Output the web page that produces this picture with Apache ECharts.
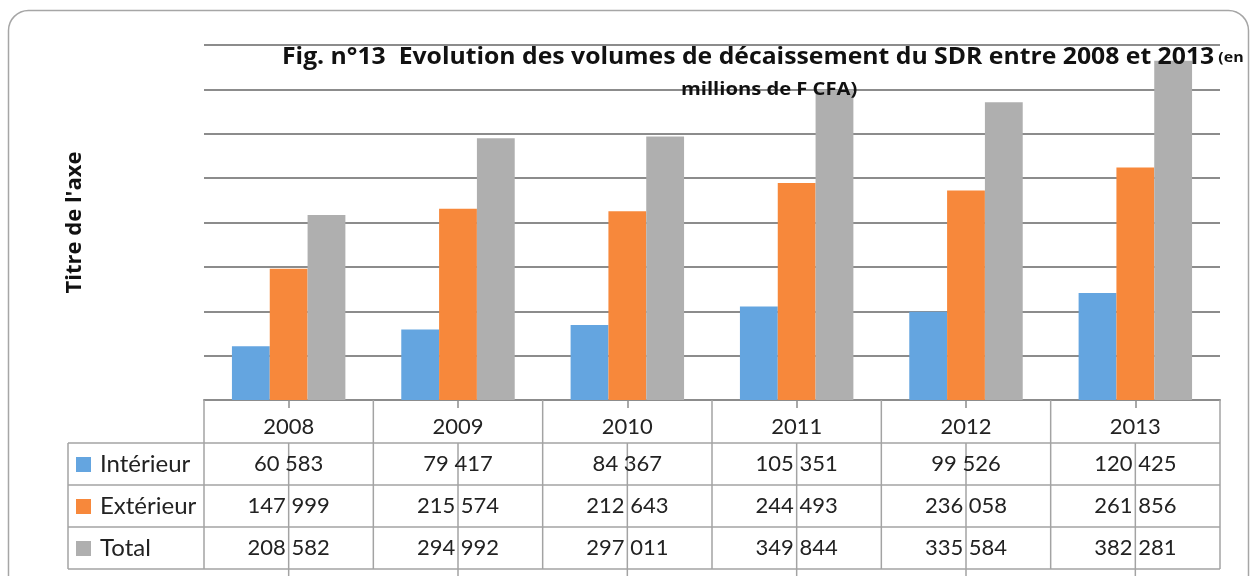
<!DOCTYPE html>
<html>
<head>
<meta charset="utf-8">
<script src="https://cdn.jsdelivr.net/npm/echarts@6/dist/echarts.min.js"></script>
<style>
html,body{margin:0;padding:0;background:#fff;}
#chart{width:1250px;height:576px;}
</style>
</head>
<body>
<div id="chart"></div>
<script>
// ---- data ----
const categories = ['2008', '2009', '2010', '2011', '2012', '2013'];
const seriesNames = ['Intérieur', 'Extérieur', 'Total'];
const interieur = [60583, 79417, 84367, 105351, 99526, 120425];
const exterieur = [147999, 215574, 212643, 244493, 236058, 261856];
const total = [208582, 294992, 297011, 349844, 335584, 382281];
const titleMain = 'Fig. n°13  Evolution des volumes de décaissement du SDR entre 2008 et 2013';
const titleUnitA = ' (en';
const titleUnitB = 'millions de F CFA)';
const yAxisTitle = "Titre de l'axe";

// ---- style ----
const colors = ['#64a5e0', '#f7883b', '#afafaf'];
const FONT = 'Lato, "Open Sans", sans-serif';
const TFONT = '"Open Sans", sans-serif';
const TXT = '#222';
const LINE = '#a3a3a3';
const seriesData = [interieur, exterieur, total];

function fmt(v) {
  return String(v).replace(/\B(?=(\d{3})+(?!\d))/g, ' ');
}

const chart = echarts.init(document.getElementById('chart'), null, {renderer: 'canvas'});

const option = {
  animation: false,
  backgroundColor: '#fff',
  textStyle: {fontFamily: FONT},
  grid: {left: 204, right: 30, top: 45, bottom: 176, containLabel: false},
  xAxis: {
    type: 'category',
    data: categories,
    axisLine: {show: true, lineStyle: {color: '#8c8c8c', width: 2}},
    axisTick: {show: true, alignWithLabel: true, length: 8, lineStyle: {color: '#8c8c8c', width: 1.5}},
    axisLabel: {fontFamily: FONT, fontSize: 22, color: TXT, margin: 16},
    splitLine: {show: false}
  },
  yAxis: {
    type: 'value',
    min: 0, max: 400000, interval: 50000,
    axisLine: {show: false},
    axisTick: {show: false},
    axisLabel: {show: false},
    splitLine: {show: true, lineStyle: {color: '#8c8c8c', width: 2}},
    name: yAxisTitle,
    nameLocation: 'middle',
    nameRotate: 90,
    nameGap: 118,
    nameTextStyle: {fontFamily: TFONT, fontSize: 22, fontWeight: 'bold', color: '#111'}
  },
  series: seriesNames.map((n, i) => ({
    name: n,
    type: 'bar',
    data: seriesData[i],
    barGap: '0%',
    barCategoryGap: '33%',
    itemStyle: {color: colors[i]}
  }))
};
chart.setOption(option);

// ---- data table (positions derived from the axes) ----
const x0 = chart.convertToPixel({xAxisIndex: 0}, categories[0]);
const x1 = chart.convertToPixel({xAxisIndex: 0}, categories[1]);
const band = x1 - x0;
const yBase = chart.convertToPixel({yAxisIndex: 0}, 0);
const leftEdge = x0 - band / 2;
const rightEdge = chart.convertToPixel({xAxisIndex: 0}, categories[categories.length - 1]) + band / 2;
const headerH = 43;
const rowH = 42;
const legendLeft = 68;
const rowsTop = yBase + headerH;
const tableBottom = rowsTop + rowH * seriesNames.length;

const g = [];
// frame
g.push({type: 'rect', shape: {x: 8.5, y: 10.5, width: 1240, height: 620, r: 20},
  style: {fill: null, stroke: '#a6a6a6', lineWidth: 1.5}, z: 0, silent: true});
// title (horizontally stretched like the original)
g.push({type: 'text', x: 282, y: 46, scaleX: 1.1, z: 20,
  style: {text: '{a|' + titleMain + '}{b|' + titleUnitA + '}', verticalAlign: 'top', align: 'left',
    rich: {
      a: {fontFamily: TFONT, fontSize: 22.5, fontWeight: 'bold', fill: '#111'},
      b: {fontFamily: TFONT, fontSize: 14.5, fontWeight: 'bold', fill: '#111'}
    }}});
g.push({type: 'text', x: 681, y: 81, scaleX: 1.12, z: 20,
  style: {text: titleUnitB, fontFamily: TFONT, fontSize: 18, fontWeight: 'bold', fill: '#111', verticalAlign: 'top', align: 'left'}});
function hline(y, xa, xb) {
  g.push({type: 'line', shape: {x1: xa, y1: y, x2: xb, y2: y}, style: {stroke: LINE, lineWidth: 1.5}, z: 10});
}
function vline(x, ya, yb) {
  g.push({type: 'line', shape: {x1: x, y1: ya, x2: x, y2: yb}, style: {stroke: LINE, lineWidth: 1.5}, z: 10});
}
for (let r = 0; r <= seriesNames.length; r++) {
  hline(rowsTop + r * rowH, legendLeft, rightEdge);
}
for (let c = 0; c <= categories.length; c++) {
  vline(leftEdge + c * band, yBase, tableBottom);
}
vline(legendLeft, rowsTop, tableBottom);
categories.forEach((c) => {
  const cx = chart.convertToPixel({xAxisIndex: 0}, c);
  vline(cx, rowsTop, 576);
});
seriesNames.forEach((n, r) => {
  const cy = rowsTop + r * rowH + rowH / 2;
  g.push({type: 'rect', shape: {x: 76, y: cy - 7, width: 15, height: 15}, style: {fill: colors[r]}, z: 11});
  g.push({type: 'text', x: 100, y: cy, style: {text: n, fontFamily: FONT, fontSize: 24, fill: TXT, verticalAlign: 'middle', align: 'left'}, z: 11});
  seriesData[r].forEach((v, c) => {
    const cx = chart.convertToPixel({xAxisIndex: 0}, categories[c]);
    g.push({type: 'text', x: cx, y: cy, style: {text: fmt(v), fontFamily: FONT, fontSize: 22, fill: TXT, verticalAlign: 'middle', align: 'center'}, z: 11});
  });
});
chart.setOption({graphic: {elements: g}});
</script>
</body>
</html>
